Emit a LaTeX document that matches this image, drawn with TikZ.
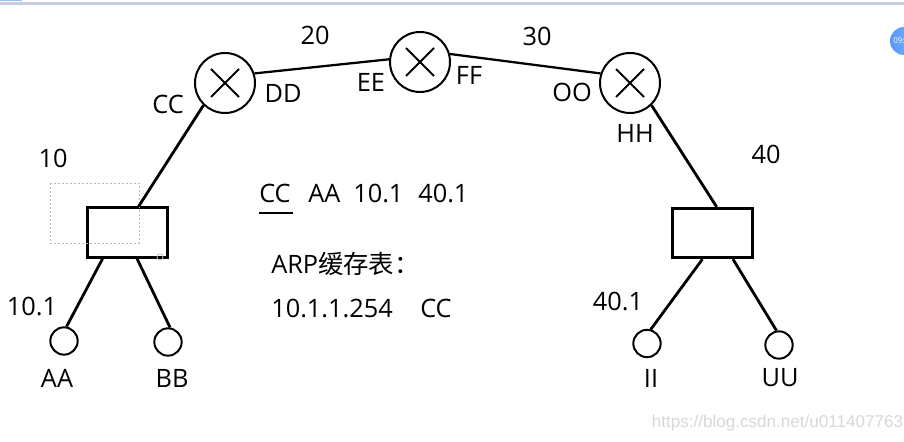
\documentclass[tikz,border=0pt]{standalone}
\usepackage{fontspec}
\setmainfont{Open Sans}
\newfontfamily\cjk{Noto Sans CJK SC}
\newfontfamily\wmfont{Liberation Sans}
\begin{document}
\begin{tikzpicture}[x=0.75pt,y=-0.75pt,
  router/.style={circle,draw,line width=1.5pt,minimum size=45pt,inner sep=0pt,
    path picture={
      \draw[line width=1.5pt] ([shift={(-10.5pt,10.5pt)}]path picture bounding box.center) -- ([shift={(10.5pt,-10.5pt)}]path picture bounding box.center);
      \draw[line width=1.5pt] ([shift={(-10.5pt,-10.5pt)}]path picture bounding box.center) -- ([shift={(10.5pt,10.5pt)}]path picture bounding box.center);}},
  swbox/.style={rectangle,draw,line width=2.25pt,minimum width=60pt,minimum height=37pt,inner sep=0pt},
  host/.style={circle,draw,line width=1.5pt,minimum size=20.5pt,inner sep=0pt},
  lbl/.style={font=\fontsize{19pt}{22pt}\selectfont,inner sep=0pt},
  link/.style={line width=1.7pt},
  wire/.style={line width=2.1pt}
]
\useasboundingbox (0,0) rectangle (904,442);
% screenshot frame artifacts
\fill[fill={rgb,255:red,200;green,205;blue,224}] (0,2) rectangle (904,5);
\fill[fill={rgb,255:red,150;green,190;blue,240}] (0,0) rectangle (22,1);
\begin{scope}
\clip (0,0) rectangle (904,442);
\shade[left color={rgb,255:red,90;green,150;blue,250},right color={rgb,255:red,120;green,185;blue,250}] (904,41) circle (14);
\node[inner sep=0pt,text=white,font=\fontsize{6pt}{7pt}\selectfont] (clk) at (899,41) {09:};
\end{scope}

% routers
\node[router] (r1) at (225,83) {};
\node[router] (r2) at (420,62) {};
\node[router] (r3) at (630,83) {};
% switches
\node[swbox] (lbox) at (127,232.5) {};
\node[swbox] (rbox) at (712.5,233) {};
% selection artefact
\draw[gray!55,line width=0.6pt,dash pattern=on 1.2pt off 1.8pt] (50,183) rectangle (139,243);
\draw[gray!50,line width=0.6pt] (160,257) circle (3);
% hosts
\node[host] (aa) at (64,341) {};
\node[host] (bb) at (168,342) {};
\node[host] (ii) at (647,343.5) {};
\node[host] (uu) at (779,345) {};

% connectors
\draw[link] (r1.18) -- (r2.175);
\draw[link] (r2.15) -- (r3.162);
\draw[wire] (r1.226) -- (lbox.66);
\draw[wire] (r3.314) -- (rbox.81);
\draw[wire] (lbox.227) -- (aa.80);
\draw[wire] (lbox.291) -- (bb.82);
\draw[wire] (rbox.249) -- (ii.75);
\draw[wire] (rbox.308) -- (uu.100);

% labels
\node[lbl] (t20) at (315,35) {20};
\node[lbl] (t30) at (537,36) {30};
\node[lbl] (tcc) at (168,104) {CC};
\node[lbl] (tdd) at (283,93) {DD};
\node[lbl] (tee) at (371,82) {EE};
\node[lbl] (tff) at (469,75) {FF};
\node[lbl] (too) at (572,92) {OO};
\node[lbl] (thh) at (635,133) {HH};
\node[lbl] (t10) at (53,158) {10};
\node[lbl] (t40) at (766,154) {40};
\node[lbl] (t101) at (32,306) {10.1};
\node[lbl] (t401) at (618,301) {40.1};
\node[lbl] (taa) at (57,378) {AA};
\node[lbl] (tbb) at (172,378) {BB};
\node[lbl] (tii) at (651,378) {II};
\node[lbl] (tuu) at (780,378) {UU};

% centre text
\node[lbl,anchor=base west] (c1) at (259,203) {CC};
\draw[line width=1.2pt] (259,213) -- (293,213);
\node[lbl,anchor=base west] (c2) at (308,203) {AA};
\node[lbl,anchor=base west] (c3) at (353,203) {10.1};
\node[lbl,anchor=base west] (c4) at (418,203) {40.1};
\node[lbl,anchor=base west] (arp) at (271,273) {ARP{\cjk 缓存表：}};
\node[lbl,anchor=base west] (ip) at (271,317) {10.1.1.254};
\node[lbl,anchor=base west] (ipcc) at (420,317) {CC};

% watermark
\node[inner sep=0pt,text={rgb,255:red,215;green,215;blue,215},font=\wmfont\fontsize{12.8pt}{14pt}\selectfont] (wm) at (777.5,423) {https://blog.csdn.net/u011407763};
\end{tikzpicture}
\end{document}
